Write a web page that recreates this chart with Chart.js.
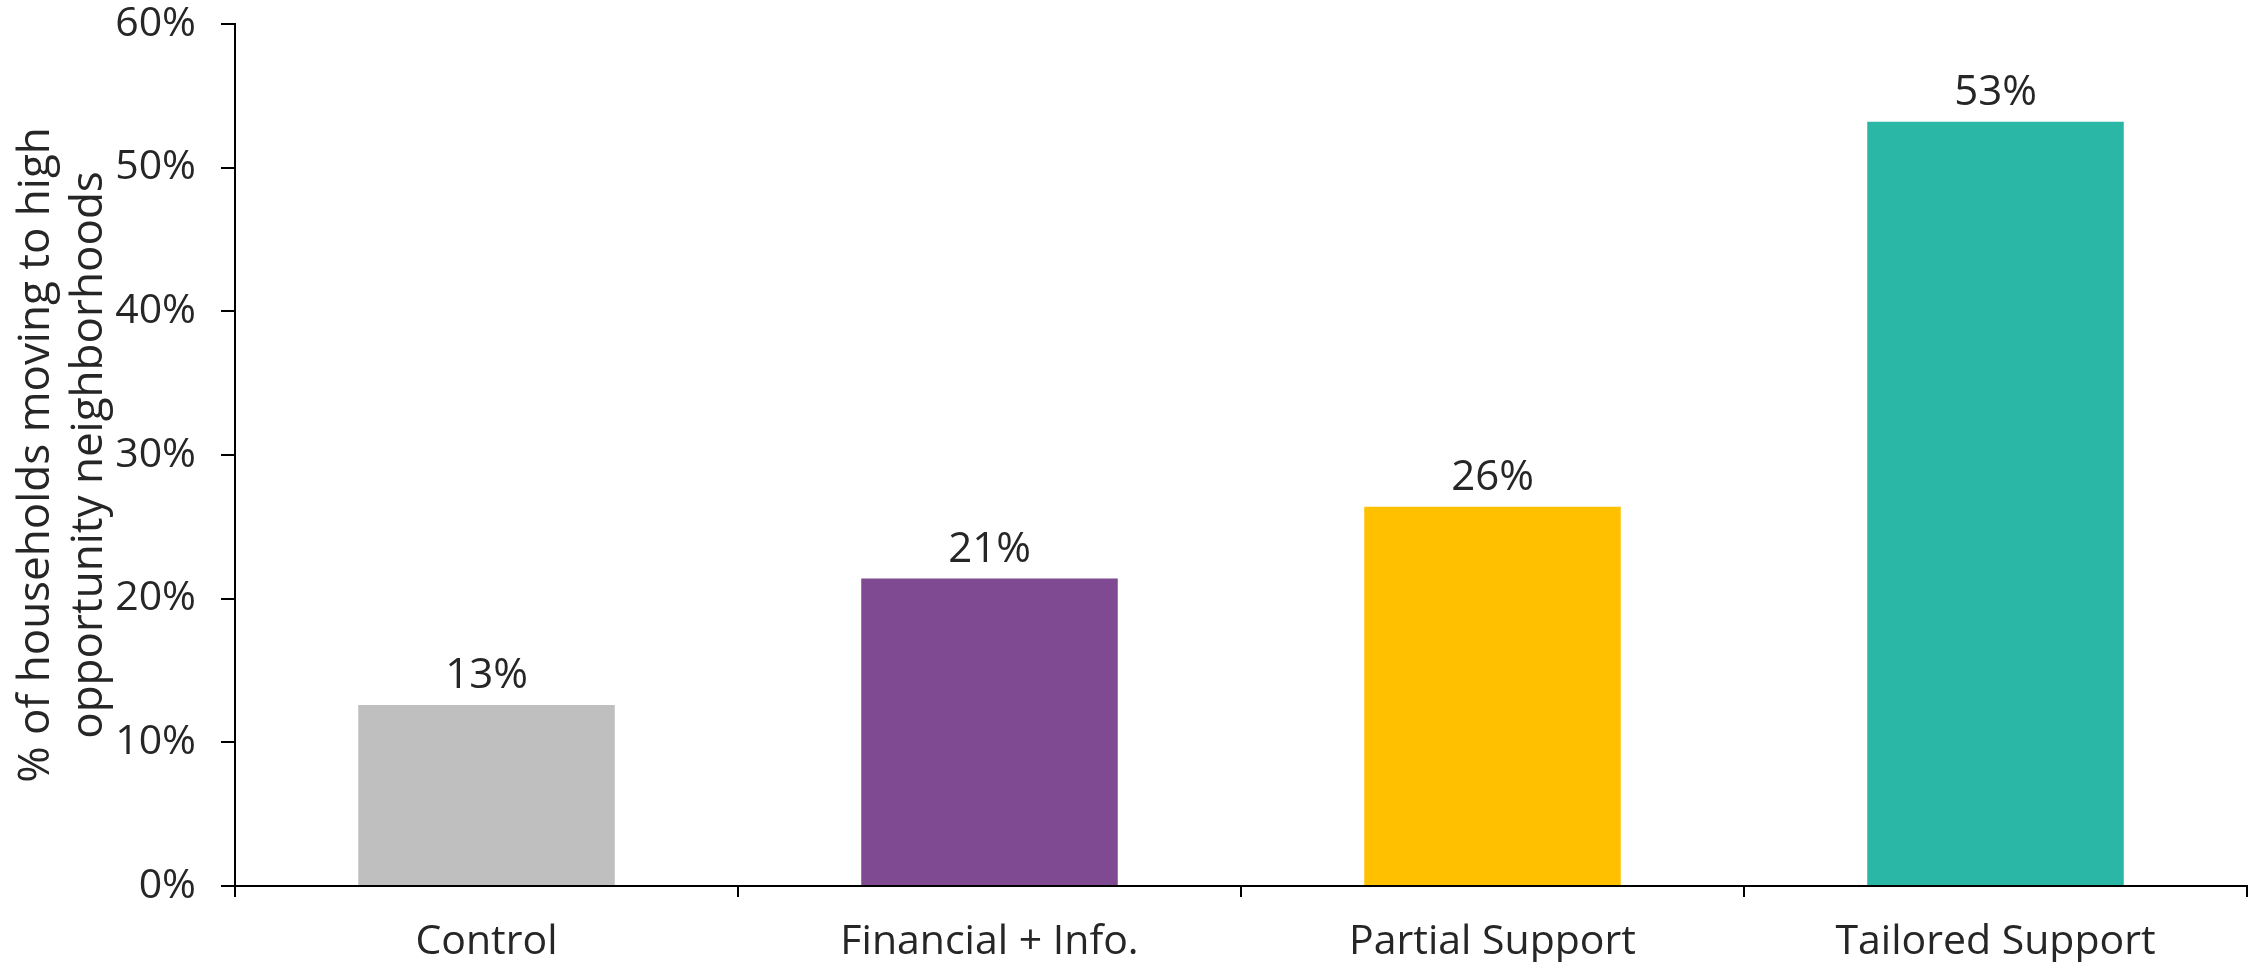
<!DOCTYPE html>
<html>
<head>
<meta charset="utf-8">
<title>High opportunity moves</title>
<script src="https://cdn.jsdelivr.net/npm/chart.js@4.4.0/dist/chart.umd.min.js"></script>
<style>
  html, body { margin: 0; padding: 0; background: #fff; }
  #chart { display: block; }
</style>
</head>
<body>
<canvas id="chart" width="2260" height="962"></canvas>
<script>
const categories = ['Control', 'Financial + Info.', 'Partial Support', 'Tailored Support'];
const values = [12.6, 21.4, 26.4, 53.2];
const barColors = ['#BFBFBF', '#7F4A91', '#FFC000', '#2AB7A6'];
const yTicks = [0, 10, 20, 30, 40, 50, 60];
const yTitle = ['% of households moving to high', 'opportunity neighborhoods'];

const textColor = '#262626';
const fontFamily = '"Open Sans", "Noto Sans", sans-serif';

// value labels above each bar
const barLabels = {
  id: 'barLabels',
  afterDatasetsDraw(chart) {
    const ctx = chart.ctx;
    const meta = chart.getDatasetMeta(0);
    ctx.save();
    ctx.font = '42px ' + fontFamily;
    ctx.fillStyle = textColor;
    ctx.textAlign = 'center';
    ctx.textBaseline = 'alphabetic';
    meta.data.forEach((bar, i) => {
      ctx.fillText(Math.round(values[i]) + '%', bar.x, bar.y - 17);
    });
    ctx.restore();
  }
};

new Chart(document.getElementById('chart').getContext('2d'), {
  type: 'bar',
  data: {
    labels: categories,
    datasets: [{
      data: values,
      backgroundColor: barColors,
      borderWidth: 0,
      barPercentage: 0.51,
      categoryPercentage: 1
    }]
  },
  options: {
    responsive: false,
    devicePixelRatio: 1,
    animation: false,
    layout: { padding: { top: 24, right: 13, bottom: 0, left: 0 } },
    plugins: {
      legend: { display: false },
      tooltip: { enabled: false }
    },
    scales: {
      x: {
        border: { display: true, color: '#000', width: 2 },
        grid: { display: true, drawOnChartArea: false, drawTicks: true, tickLength: 11, color: '#000', lineWidth: 2, offset: true },
        ticks: { color: textColor, font: { family: fontFamily, size: 41 }, padding: 21, maxRotation: 0, autoSkip: false },
        afterFit: s => { s.height = 76; }
      },
      y: {
        min: 0,
        max: 60,
        border: { display: true, color: '#000', width: 2 },
        grid: { display: true, drawOnChartArea: false, drawTicks: true, tickLength: 14, color: '#000', lineWidth: 2 },
        afterBuildTicks: s => { s.ticks = yTicks.map(v => ({ value: v })); },
        ticks: {
          color: textColor,
          font: { family: fontFamily, size: 41 },
          padding: 25,
          callback: v => v + '%'
        },
        title: {
          display: true,
          text: yTitle,
          color: textColor,
          font: { family: fontFamily, size: 44, lineHeight: 1.2 },
          padding: { top: 10, bottom: 0 }
        },
        afterFit: s => {
          s.width = 235;
          s.paddingTop = 0;
          s.paddingBottom = 0;
        }
      }
    }
  },
  plugins: [barLabels]
});
</script>
</body>
</html>
